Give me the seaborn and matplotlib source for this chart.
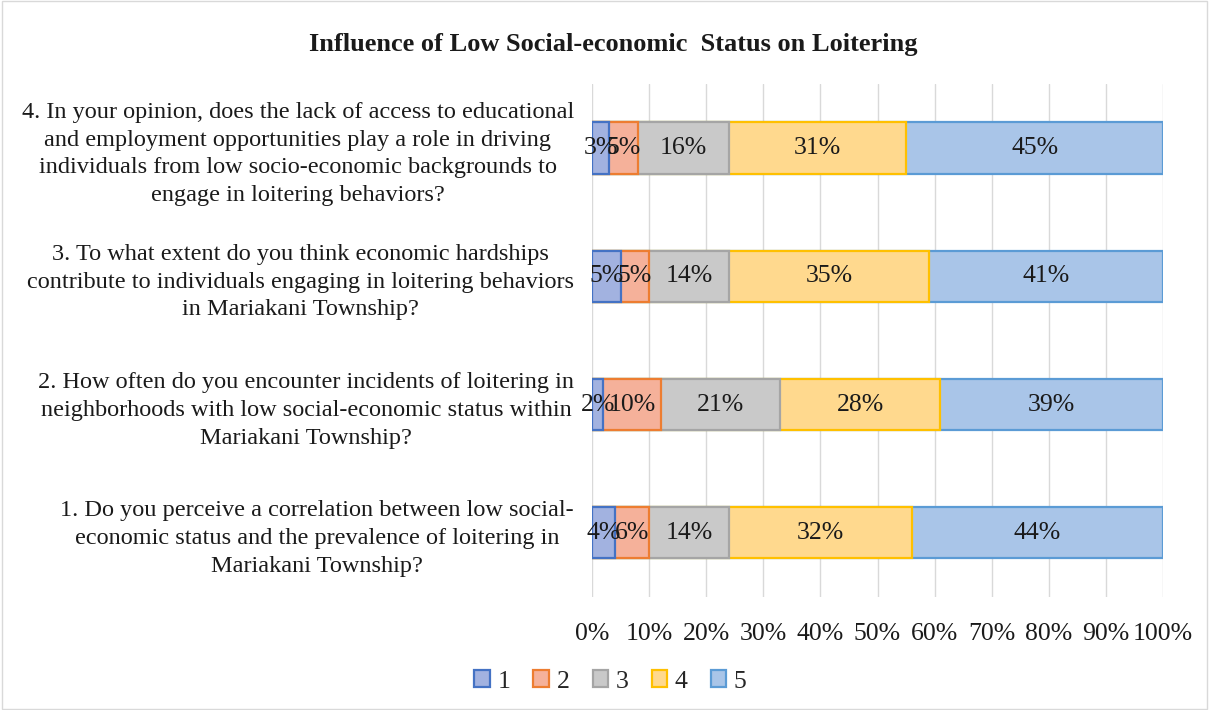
import numpy as np
import pandas as pd
import seaborn as sns
import matplotlib.pyplot as plt
from matplotlib.patches import Patch, Rectangle

questions = [
    "4. In your opinion, does the lack of access to educational\nand employment opportunities play a role in driving\nindividuals from low socio-economic backgrounds to\nengage in loitering behaviors?",
    "3. To what extent do you think economic hardships\ncontribute to individuals engaging in loitering behaviors\nin Mariakani Township?",
    "2. How often do you encounter incidents of loitering in\nneighborhoods with low social-economic status within\nMariakani Township?",
    "1. Do you perceive a correlation between low social-\neconomic status and the prevalence of loitering in\nMariakani Township?",
]
scale_points = ["1", "2", "3", "4", "5"]
rating_1 = [3, 5, 2, 4]
rating_2 = [5, 5, 10, 6]
rating_3 = [16, 14, 21, 14]
rating_4 = [31, 35, 28, 32]
rating_5 = [45, 41, 39, 44]
tick_values = list(range(0, 101, 10))

fill_colors = ["#a2b2e0", "#f5b19a", "#c9c9c9", "#ffd98e", "#a9c5e8"]
edge_colors = ["#4472c4", "#ed7d31", "#a5a5a5", "#ffc000", "#5b9bd5"]

sns.set_theme(style="white")
plt.rcParams["font.family"] = ["Liberation Serif", "DejaVu Serif"]

series = [rating_1, rating_2, rating_3, rating_4, rating_5]
cumulative = np.cumsum(np.array(series), axis=0)

fig = plt.figure(figsize=(12.09, 7.10), dpi=100)
ax = fig.add_axes([0.4897, 0.1592, 0.4723, 0.7225])

# draw cumulative layers from the widest down so each segment shows on top
for k in range(len(series) - 1, -1, -1):
    frame = pd.DataFrame({"question": questions, "value": cumulative[k]})
    sns.barplot(data=frame, x="value", y="question", orient="h", ax=ax,
                color=fill_colors[k], edgecolor=edge_colors[k], linewidth=1.6,
                width=0.4, saturation=1, errorbar=None, zorder=3)

for k, vals in enumerate(series):
    for i, v in enumerate(vals):
        center = cumulative[k][i] - v / 2
        ax.text(center, i, f"{v}%", ha="center", va="center", fontsize=18.5,
                color="#1a1a1a", zorder=5)

ax.set_xlim(0, 100)
ax.set_ylim(3.5, -0.5)
ax.set_xticks(tick_values)
ax.set_xticklabels([f"{t}%" for t in tick_values])
ax.set_xlabel("")
ax.set_ylabel("")
ax.grid(axis="x", color="#d9d9d9", linewidth=1, zorder=0)
ax.set_axisbelow(True)
for s in ax.spines.values():
    s.set_visible(False)
ax.tick_params(axis="x", length=0, pad=19, labelsize=18.5, colors="#1a1a1a")
ax.tick_params(axis="y", length=0, pad=13, labelsize=17.5, colors="#1a1a1a")
for lab in ax.get_yticklabels():
    lab.set_multialignment("center")
    lab.set_linespacing(1.42)

fig.suptitle("Influence of Low Social-economic  Status on Loitering", x=0.507,
             y=0.953, fontsize=19, fontweight="bold", color="#1a1a1a")

handles = [Patch(facecolor=fill_colors[k], edgecolor=edge_colors[k], linewidth=1.6)
           for k in range(len(scale_points))]
fig.legend(handles, scale_points, loc="center", bbox_to_anchor=(0.505, 0.04),
           ncol=5, frameon=False, fontsize=18.5, handlelength=0.6, handleheight=0.6,
           handletextpad=0.3, columnspacing=0.9)

fig.patches.append(Rectangle((0.002, 0.002), 0.996, 0.996, transform=fig.transFigure,
                             fill=False, edgecolor="#d9d9d9", linewidth=1))

fig.savefig("out.png", dpi=100, facecolor="white")
